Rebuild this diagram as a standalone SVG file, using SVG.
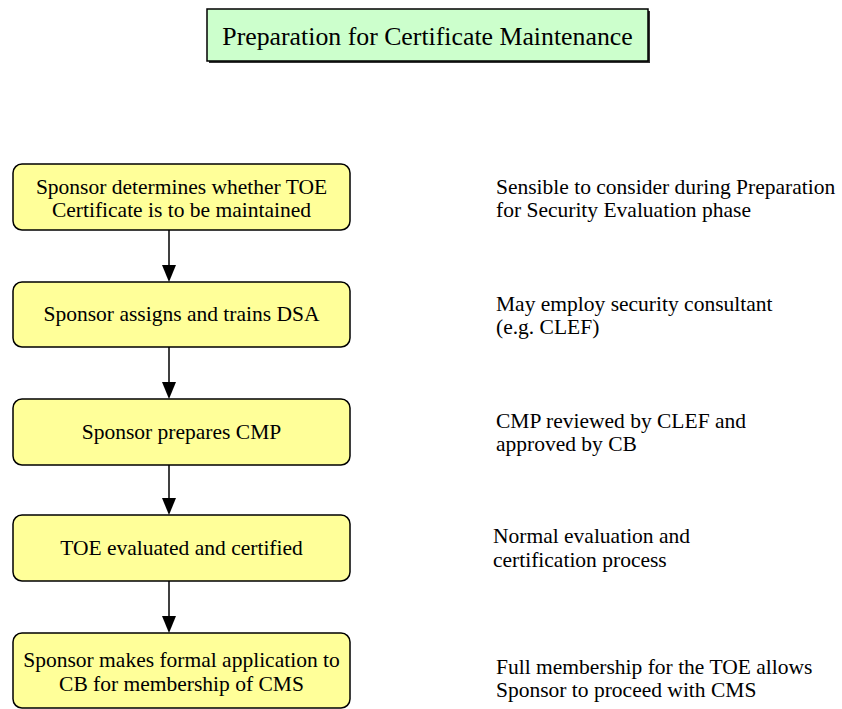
<svg xmlns="http://www.w3.org/2000/svg" width="842" height="709" viewBox="0 0 842 709" font-family="'Liberation Serif', 'Times New Roman', serif">
<style>
  text { font-family: "Liberation Serif", "Times New Roman", serif; font-size: 21.5px; fill: #000; }
  .title { font-size: 25.8px; }
  .node rect { fill: #FFFF99; stroke: #000; stroke-width: 1.5; }
  .titlebox { fill: #CCFFCC; stroke: #000; stroke-width: 1.5; }
  .shadow { fill: #333; }
  .c { text-anchor: middle; }
  .conn line { stroke: #000; stroke-width: 1.5; }
  .conn polygon { fill: #000; }
</style>
<rect width="842" height="709" fill="#fff"/>
<g id="title">
  <rect class="shadow" x="209" y="11" width="441" height="52"/>
  <rect class="titlebox" x="207" y="9" width="441" height="52"/>
  <text class="title c" x="427.5" y="45">Preparation for Certificate Maintenance</text>
</g>
<g id="conn" class="conn">
  <line x1="169" y1="230" x2="169" y2="266"/>
  <polygon points="162,265 176,265 169,282"/>
  <line x1="169" y1="347" x2="169" y2="383"/>
  <polygon points="162,382 176,382 169,399"/>
  <line x1="169" y1="465" x2="169" y2="499"/>
  <polygon points="162,498 176,498 169,515"/>
  <line x1="169" y1="581" x2="169" y2="617"/>
  <polygon points="162,616 176,616 169,633"/>
</g>
<g id="n1" class="node">
  <rect x="13" y="164" width="337" height="66" rx="9"/>
  <text class="c" x="181.5" y="194">Sponsor determines whether TOE</text>
  <text class="c" x="181.5" y="217">Certificate is to be maintained</text>
</g>
<g id="n2" class="node">
  <rect x="13" y="282" width="337" height="65" rx="9"/>
  <text class="c" x="181.5" y="321">Sponsor assigns and trains DSA</text>
</g>
<g id="n3" class="node">
  <rect x="13" y="399" width="337" height="66" rx="9"/>
  <text class="c" x="181.5" y="439">Sponsor prepares CMP</text>
</g>
<g id="n4" class="node">
  <rect x="13" y="515" width="337" height="66" rx="9"/>
  <text class="c" x="181.5" y="555">TOE evaluated and certified</text>
</g>
<g id="n5" class="node">
  <rect x="13" y="633" width="337" height="75" rx="9"/>
  <text class="c" x="181.5" y="667">Sponsor makes formal application to</text>
  <text class="c" x="181.5" y="691">CB for membership of CMS</text>
</g>
<g id="notes">
  <text x="496" y="194">Sensible to consider during Preparation</text>
  <text x="496" y="217">for Security Evaluation phase</text>
  <text x="496" y="311">May employ security consultant</text>
  <text x="496" y="334">(e.g. CLEF)</text>
  <text x="496" y="428">CMP reviewed by CLEF and</text>
  <text x="496" y="451">approved by CB</text>
  <text x="493" y="543">Normal evaluation and</text>
  <text x="493" y="567">certification process</text>
  <text x="496" y="674">Full membership for the TOE allows</text>
  <text x="496" y="697">Sponsor to proceed with CMS</text>
</g>
</svg>
